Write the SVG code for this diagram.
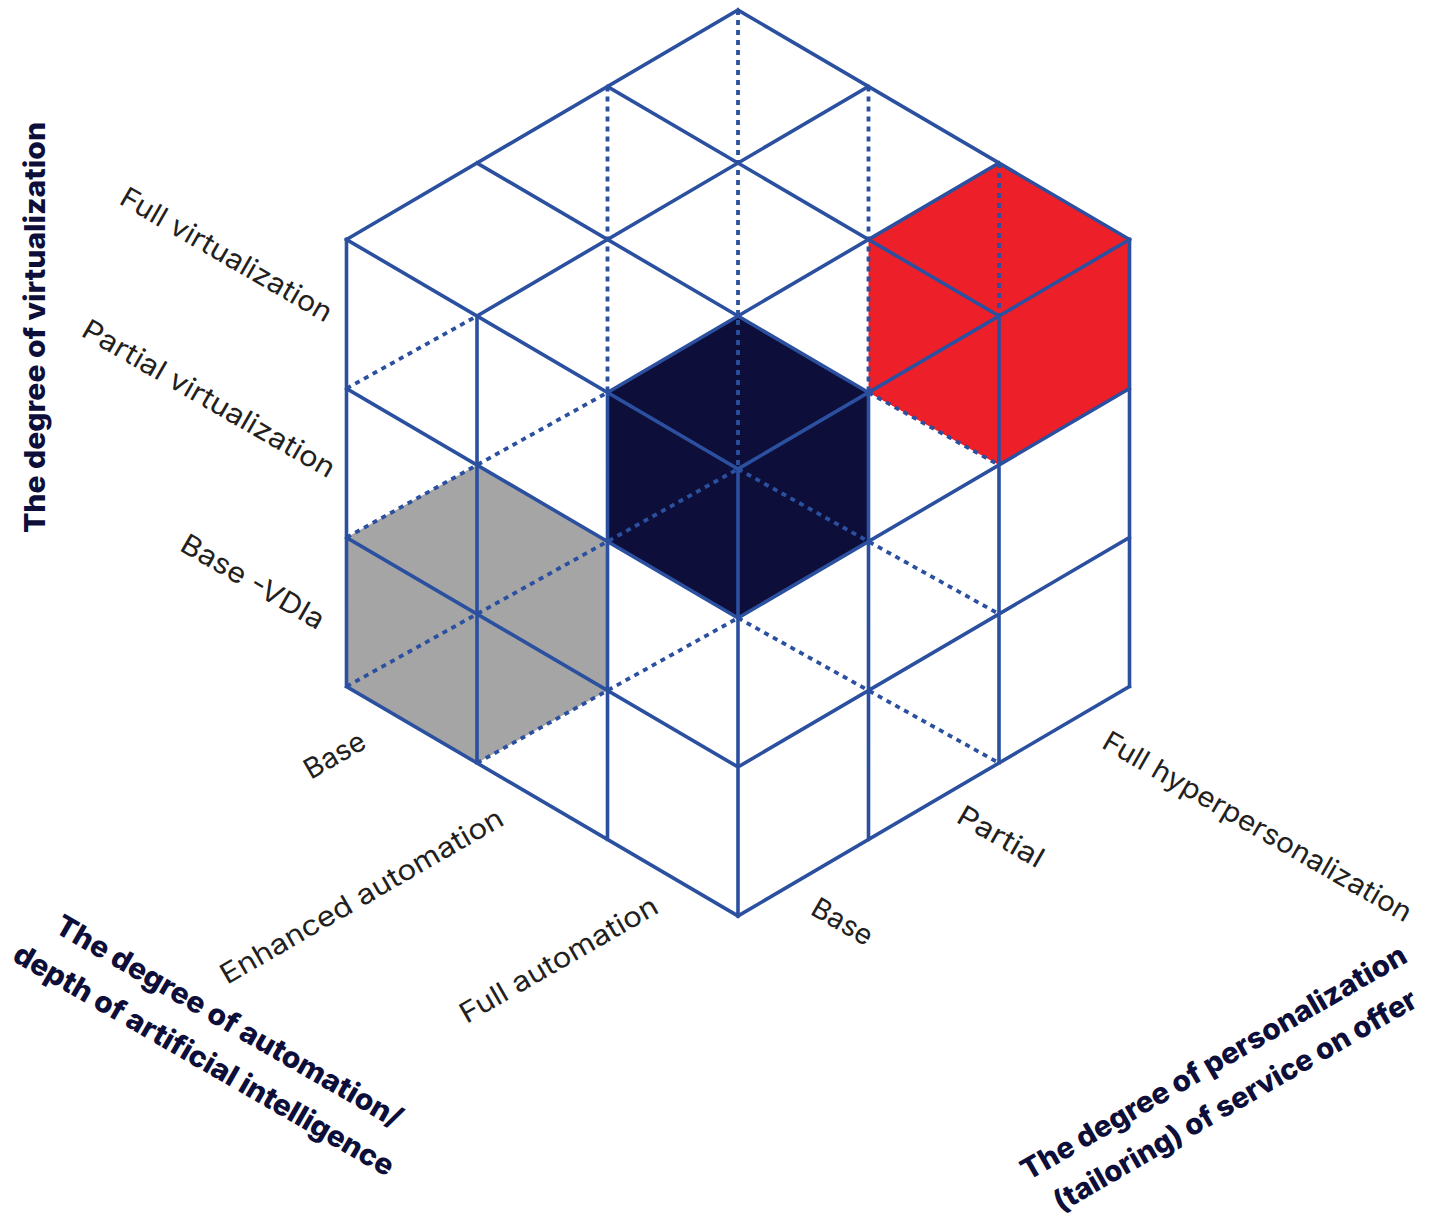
<svg xmlns="http://www.w3.org/2000/svg" width="1440" height="1221" viewBox="0 0 1440 1221">
<style>
.ln{stroke:#2b50a0;stroke-width:3.6;fill:none;stroke-linecap:square}
.dsh{stroke:#2b50a0;stroke-width:3.8;fill:none;stroke-dasharray:5 5}
.lbl{font-family:Inter,"Noto Sans",sans-serif;font-size:28px;fill:#231f20;text-anchor:middle}
.ttl{font-family:Inter,"Noto Sans",sans-serif;font-size:29px;font-weight:800;fill:#0d0f3a;text-anchor:middle}
</style>
<rect width="1440" height="1221" fill="#ffffff"/>
<g id="cube-gray"><polygon points="346.5,537.5 477,465 607.5,541.5 607.5,690.5 477,763 346.5,686.5" fill="#a5a5a5"/></g>
<g id="cube-navy"><polygon points="738,316 868.5,392.5 868.5,541.5 738,618 607.5,541.5 607.5,392.5" fill="#0d0f3a"/></g>
<g id="cube-red"><polygon points="999,163 1129.5,239.5 1129.5,388.5 999,465 868.5,392.5 868.5,239.5" fill="#ed1f28"/></g>
<g id="connectors">
<g id="hidden">
<path class="dsh" d="M738,10V469 M607.5,86.5V392.5 M868.5,86.5V392.5 M999,163V316 M346.5,388.5L477,316 M346.5,537.5L607.5,392.5 M346.5,686.5L738,469 M477,763L738,618 M868.5,392.5L999,465 M738,469L999,614 M738,618L999,763"/>
</g>
<g id="top-face">
<path class="ln" d="M738,10L1129.5,239.5 M607.5,86.5L999,316 M477,163L868.5,392.5 M346.5,239.5L738,469 M738,10L346.5,239.5 M868.5,86.5L477,316 M999,163L607.5,392.5 M1129.5,239.5L738,469"/>
</g>
<g id="left-face">
<path class="ln" d="M346.5,239.5V686.5 M477,316V763 M607.5,392.5V839.5 M738,469V916 M346.5,388.5L738,618 M346.5,537.5L738,767 M346.5,686.5L738,916"/>
</g>
<g id="right-face">
<path class="ln" d="M1129.5,239.5V686.5 M999,316V763 M868.5,392.5V839.5 M1129.5,388.5L738,618 M1129.5,537.5L738,767 M1129.5,686.5L738,916"/>
</g>
</g>
<g id="axis-virtualization">
<text class="ttl" transform="translate(45,327.5) rotate(-90)" textLength="411" lengthAdjust="spacingAndGlyphs">The degree of virtualization</text>
<text class="lbl" transform="translate(221.6,262.9) rotate(30)" textLength="240" lengthAdjust="spacingAndGlyphs">Full virtualization</text>
<text class="lbl" transform="translate(204,407) rotate(30)" textLength="287" lengthAdjust="spacingAndGlyphs">Partial virtualization</text>
<text class="lbl" transform="translate(248,590) rotate(30)" textLength="161" lengthAdjust="spacingAndGlyphs">Base -VDIa</text>
</g>
<g id="axis-automation">
<text class="lbl" transform="translate(339.4,763.4) rotate(-30)" textLength="66" lengthAdjust="spacingAndGlyphs">Base</text>
<text class="lbl" transform="translate(366.4,904.4) rotate(-30)" textLength="322" lengthAdjust="spacingAndGlyphs">Enhanced automation</text>
<text class="lbl" transform="translate(563.4,967.9) rotate(-30)" textLength="224" lengthAdjust="spacingAndGlyphs">Full automation</text>
<text class="ttl" transform="translate(224,1030) rotate(30)" textLength="395" lengthAdjust="spacingAndGlyphs">The degree of automation/</text>
<text class="ttl" transform="translate(199,1068.5) rotate(30)" textLength="434" lengthAdjust="spacingAndGlyphs">depth of artificial intelligence</text>
</g>
<g id="axis-personalization">
<text class="lbl" transform="translate(837.6,929.9) rotate(30)" textLength="66" lengthAdjust="spacingAndGlyphs">Base</text>
<text class="lbl" transform="translate(996,845) rotate(30)" textLength="95" lengthAdjust="spacingAndGlyphs">Partial</text>
<text class="lbl" transform="translate(1252.6,834.9) rotate(30)" textLength="352" lengthAdjust="spacingAndGlyphs">Full hyperpersonalization</text>
<text class="ttl" transform="translate(1218.5,1071) rotate(-30)" textLength="440" lengthAdjust="spacingAndGlyphs">The degree of personalization</text>
<text class="ttl" transform="translate(1240,1109) rotate(-30)" textLength="414" lengthAdjust="spacingAndGlyphs">(tailoring) of service on offer</text>
</g>
</svg>
